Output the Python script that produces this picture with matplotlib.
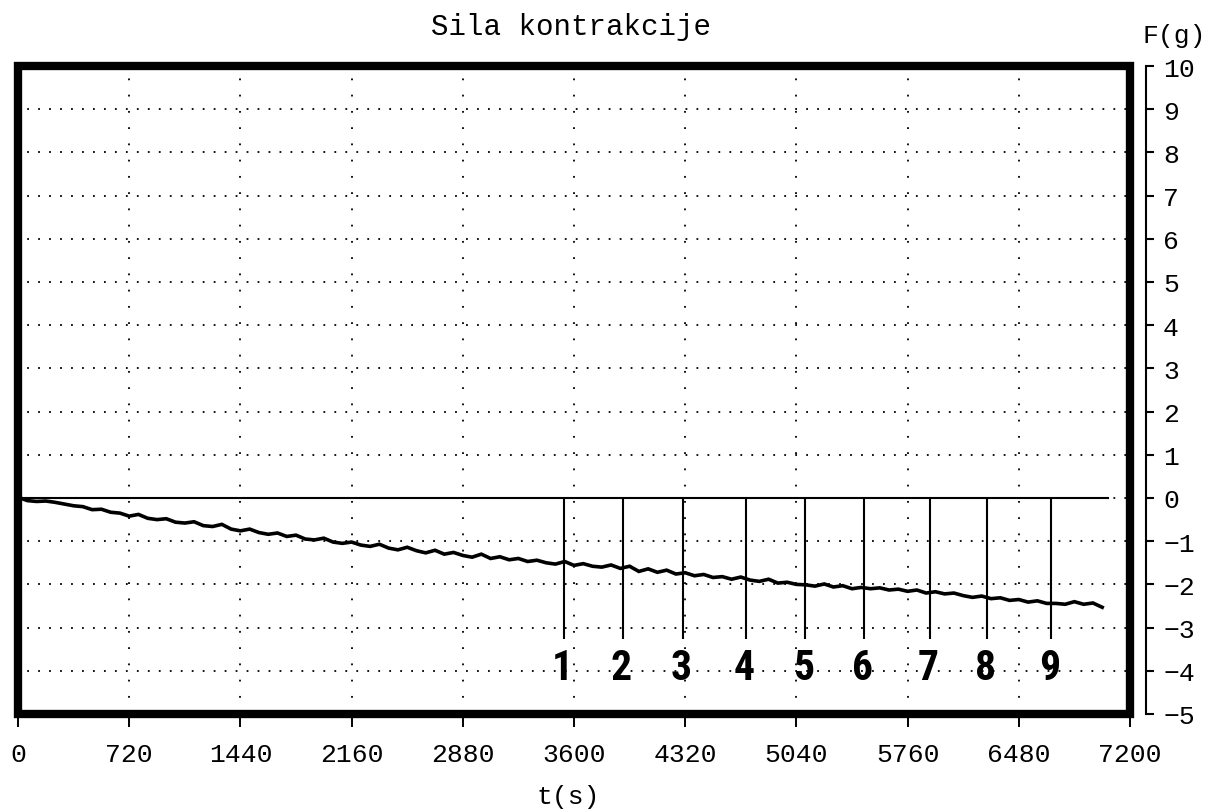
import numpy as np
import matplotlib
matplotlib.use('Agg')
import matplotlib.pyplot as plt
from matplotlib import font_manager
from matplotlib.patches import Rectangle

# force samples, one every 60 s
force = [0.02, -0.06, -0.08, -0.07, -0.10, -0.14, -0.18, -0.20, -0.27, -0.26,
         -0.33, -0.35, -0.42, -0.38, -0.47, -0.50, -0.48, -0.56, -0.58, -0.55,
         -0.64, -0.66, -0.61, -0.72, -0.76, -0.72, -0.80, -0.84, -0.81, -0.89,
         -0.86, -0.95, -0.97, -0.93, -1.02, -1.05, -1.02, -1.09, -1.12, -1.07,
         -1.16, -1.20, -1.14, -1.22, -1.27, -1.21, -1.30, -1.26, -1.33, -1.37,
         -1.30, -1.40, -1.36, -1.43, -1.40, -1.47, -1.44, -1.50, -1.53, -1.47,
         -1.56, -1.52, -1.58, -1.60, -1.55, -1.63, -1.58, -1.70, -1.64, -1.72,
         -1.67, -1.76, -1.73, -1.80, -1.77, -1.84, -1.82, -1.88, -1.83, -1.90,
         -1.93, -1.88, -1.97, -1.95, -2.00, -2.01, -2.04, -1.99, -2.06, -2.03,
         -2.10, -2.07, -2.10, -2.08, -2.13, -2.11, -2.16, -2.13, -2.20, -2.17,
         -2.22, -2.20, -2.26, -2.30, -2.27, -2.33, -2.31, -2.37, -2.35, -2.41,
         -2.38, -2.44, -2.44, -2.46, -2.40, -2.46, -2.43, -2.53]
t = np.arange(len(force)) * 60

# event markers 1..9 (s)
marker_t = [3535, 3919, 4304, 4714, 5096, 5478, 5905, 6274, 6689]
marker_lbl = ['1', '2', '3', '4', '5', '6', '7', '8', '9']

x_ticks = [0, 720, 1440, 2160, 2880, 3600, 4320, 5040, 5760, 6480, 7200]
y_ticks = [-5, -4, -3, -2, -1, 0, 1, 2, 3, 4, 5, 6, 7, 8, 9, 10]

names = {f.name for f in font_manager.fontManager.ttflist}
def pick(*cands):
    return next((c for c in cands if c in names), 'DejaVu Sans')

mono = pick('Liberation Mono', 'DejaVu Sans Mono')
narrow = pick('Liberation Sans Narrow', 'Roboto Condensed', 'DejaVu Sans Condensed',
              'Liberation Sans')

plt.rcParams['font.family'] = [mono, 'DejaVu Sans']
plt.rcParams['lines.scale_dashes'] = False

W, H = 1206, 812
def box(x0, y0, x1, y1):
    return [x0 / W, 1 - y1 / H, (x1 - x0) / W, (y1 - y0) / H]

fig = plt.figure(figsize=(W / 100, H / 100), dpi=100)
ax = fig.add_axes(box(18, 67, 1130, 715))
ax.set_xlim(0, 7200)
ax.set_ylim(-5, 10)

# dotted grid
for v in range(-4, 10):
    ax.axhline(v, color='black', lw=1.3, ls=(1.3, (1.3, 6.6)), zorder=1)
for v in x_ticks[1:-1]:
    ax.axvline(v, color='black', lw=1.3, ls=(0, (1.3, 10.4)), zorder=1)

ax.plot([0, 7055], [0, 0], color='black', lw=1.5, zorder=2)
ax.vlines(marker_t, -3.27, 0, color='black', lw=1.5, zorder=2)
for mt, lb in zip(marker_t, marker_lbl):
    ax.text(mt - 12, -3.92, lb, ha='center', va='center', fontsize=30,
            fontweight='bold', family=narrow, zorder=3)

ax.plot(t, force, color='black', lw=2.6, solid_joinstyle='miter', zorder=4)

for s in ax.spines.values():
    s.set_visible(False)
ax.add_patch(Rectangle((0, 0), 1, 1, transform=ax.transAxes, fill=False,
                       lw=6, ec='black', joinstyle='miter', clip_on=False, zorder=6))

ax.set_xticks(x_ticks)
ax.set_yticks([])
ax.tick_params(axis='x', direction='out', length=9.4, width=1.4, pad=11, labelsize=19)

# force scale on the right
ay = fig.add_axes(box(1145, 67, 1146, 715))
ay.set_ylim(-5, 10)
ay.set_yticks(y_ticks)
ay.set_xticks([])
for k in ['left', 'top', 'bottom']:
    ay.spines[k].set_visible(False)
ay.spines['right'].set_linewidth(1.5)
ay.yaxis.tick_right()
ay.tick_params(axis='y', direction='out', length=5.8, width=1.5, pad=6.5, labelsize=19)
ay.patch.set_visible(False)

fig.text(571 / W, 1 - 27 / H, 'Sila kontrakcije', ha='center', va='center', fontsize=21)
fig.text(1174 / W, 1 - 36 / H, 'F(g)', ha='center', va='center', fontsize=19)
fig.text(568 / W, 1 - 797 / H, 't(s)', ha='center', va='center', fontsize=19)

fig.savefig('out.png', dpi=100, facecolor='white')
